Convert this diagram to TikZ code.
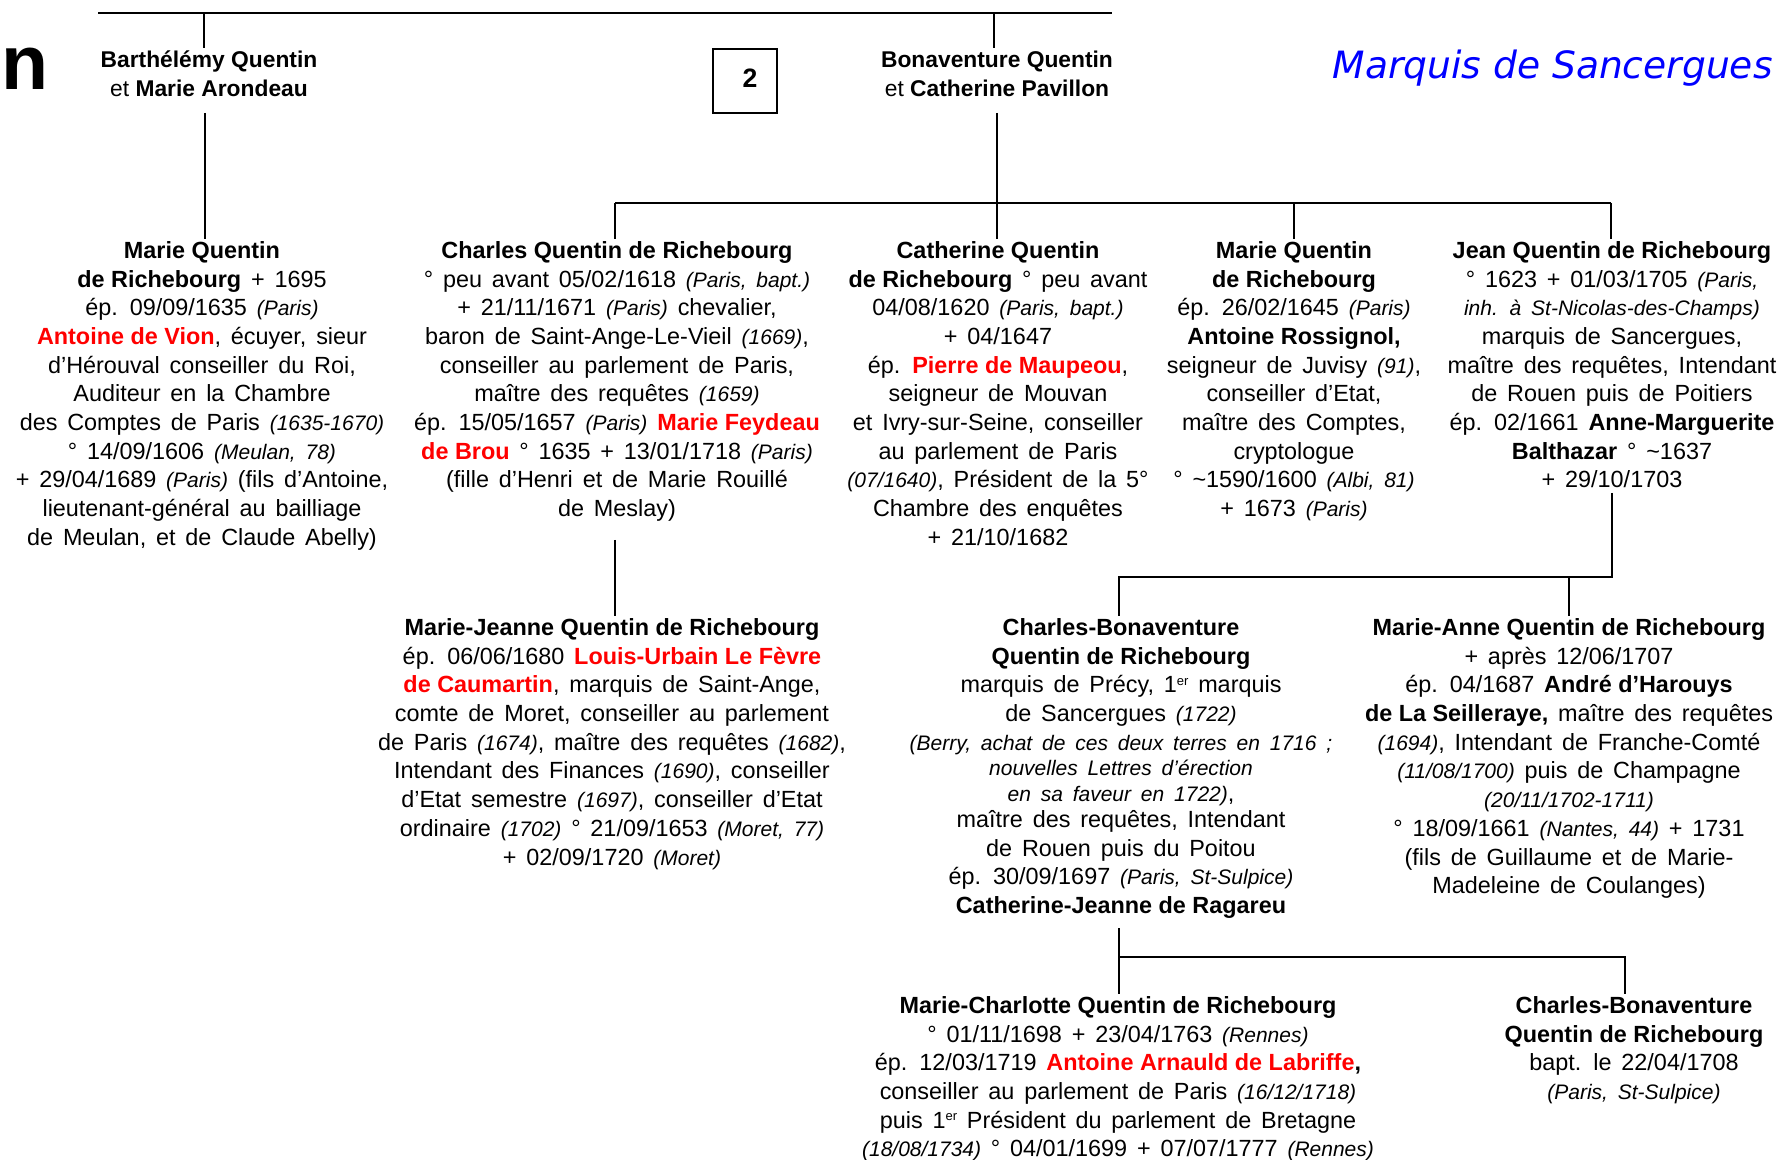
\documentclass[tikz,border=0pt]{standalone}
\usepackage{fontspec}
\setmainfont{Liberation Sans}
\newfontfamily\dejavu{DejaVu Sans}
\newcommand{\pl}[1]{{\fontsize{10.5}{14.35}\selectfont\itshape #1}}
\newcommand{\nm}[1]{{\spaceskip=0pt\bfseries #1}}
\newcommand{\rd}[1]{\textcolor{red}{\nm{#1}}}
\newcommand{\sups}[1]{\raisebox{0.6ex}{\fontsize{6.5}{7}\selectfont #1}}
\newcommand{\fl}{\rule{0pt}{9.5pt}}
\newcommand{\wsp}{\spaceskip=0.42em\relax}
\begin{document}
\begin{tikzpicture}[x=0.5pt,y=-0.5pt,
  person/.style={align=center, inner sep=0pt, anchor=north, font=\fontsize{11.7}{14.35}\selectfont\wsp},
  parent/.style={align=center, inner sep=0pt, anchor=north, font=\fontsize{11.4}{14.5}\selectfont},
  link/.style={line width=1pt, line join=miter}]
\fill[white] (0,0) rectangle (1785,1160);
\useasboundingbox (0,0) rectangle (1785,1160);

% headers
\node[anchor=base west, inner sep=0pt, font=\bfseries\fontsize{38.5}{40}\selectfont] (nn) at (1,90) {n};
\node[anchor=base east, inner sep=0pt, text=blue, font=\dejavu\itshape\fontsize{18.8}{22}\selectfont] (title) at (1773,79) {Marquis de Sancergues};
\node[draw, line width=0.75pt, minimum size=32pt, inner sep=0pt] (box) at (745,81) {};
\node[inner sep=0pt, font=\bfseries\fontsize{13.3}{16}\selectfont] (two) at (750,78) {2};

% parents
\node[parent] (bart) at (209,48) {\fl\textbf{Barthélémy Quentin}\\ et \textbf{Marie Arondeau}};
\node[parent] (bona) at (997,48) {\fl\textbf{Bonaventure Quentin}\\ et \textbf{Catherine Pavillon}};

% row 1
\node[person] (mq1) at (202,239) {\fl\nm{Marie Quentin}\\
\nm{de Richebourg} + 1695\\
ép. 09/09/1635 \pl{(Paris)}\\
\rd{Antoine de Vion}, écuyer, sieur\\
d’Hérouval conseiller du Roi,\\
Auditeur en la Chambre\\
des Comptes de Paris \pl{(1635-1670)}\\
° 14/09/1606 \pl{(Meulan, 78)}\\
+ 29/04/1689 \pl{(Paris)} (fils d’Antoine,\\
lieutenant-général au bailliage\\
de Meulan, et de Claude Abelly)};

\node[person] (ch1) at (617,239) {\fl\nm{Charles Quentin de Richebourg}\\
° peu avant 05/02/1618 \pl{(Paris, bapt.)}\\
+ 21/11/1671 \pl{(Paris)} chevalier,\\
baron de Saint-Ange-Le-Vieil \pl{(1669)},\\
conseiller au parlement de Paris,\\
maître des requêtes \pl{(1659)}\\
ép. 15/05/1657 \pl{(Paris)} \rd{Marie Feydeau}\\
\rd{de Brou} ° 1635 + 13/01/1718 \pl{(Paris)}\\
(fille d’Henri et de Marie Rouillé\\
de Meslay)};

\node[person] (ca1) at (998,239) {\fl\nm{Catherine Quentin}\\
\nm{de Richebourg} ° peu avant\\
04/08/1620 \pl{(Paris, bapt.)}\\
+ 04/1647\\
ép. \rd{Pierre de Maupeou},\\
seigneur de Mouvan\\
et Ivry-sur-Seine, conseiller\\
au parlement de Paris\\
\pl{(07/1640)}, Président de la 5°\\
Chambre des enquêtes\\
+ 21/10/1682};

\node[person] (mq4) at (1294,239) {\fl\nm{Marie Quentin}\\
\nm{de Richebourg}\\
ép. 26/02/1645 \pl{(Paris)}\\
\nm{Antoine Rossignol,}\\
seigneur de Juvisy \pl{(91)},\\
conseiller d’Etat,\\
maître des Comptes,\\
cryptologue\\
° \textasciitilde1590/1600 \pl{(Albi, 81)}\\
+ 1673 \pl{(Paris)}};

\node[person] (je1) at (1612,239) {\fl\nm{Jean Quentin de Richebourg}\\
° 1623 + 01/03/1705 \pl{(Paris,}\\
\pl{inh. à St-Nicolas-des-Champs)}\\
marquis de Sancergues,\\
maître des requêtes, Intendant\\
de Rouen puis de Poitiers\\
ép. 02/1661 \nm{Anne-Marguerite}\\
\nm{Balthazar} ° \textasciitilde1637\\
+ 29/10/1703};

% row 2
\node[person] (mj) at (612,616) {\fl\nm{Marie-Jeanne Quentin de Richebourg}\\
ép. 06/06/1680 \rd{Louis-Urbain Le Fèvre}\\
\rd{de Caumartin}, marquis de Saint-Ange,\\
comte de Moret, conseiller au parlement\\
de Paris \pl{(1674)}, maître des requêtes \pl{(1682)},\\
Intendant des Finances \pl{(1690)}, conseiller\\
d’Etat semestre \pl{(1697)}, conseiller d’Etat\\
ordinaire \pl{(1702)} ° 21/09/1653 \pl{(Moret, 77)}\\
+ 02/09/1720 \pl{(Moret)}};

\node[person] (cb) at (1121,616) {\fl\nm{Charles-Bonaventure}\\
\nm{Quentin de Richebourg}\\
marquis de Précy, 1\sups{er} marquis\\
de Sancergues \pl{(1722)}\\
\pl{(Berry, achat de ces deux terres en 1716 ;}\\[-1.5pt]
\pl{nouvelles Lettres d’érection}\\[-1.5pt]
\pl{en sa faveur en 1722)},\\[-1.5pt]
maître des requêtes, Intendant\\
de Rouen puis du Poitou\\
ép. 30/09/1697 \pl{(Paris, St-Sulpice)}\\
\nm{Catherine-Jeanne de Ragareu}};

\node[person] (ma) at (1569,616) {\fl\nm{Marie-Anne Quentin de Richebourg}\\
+ après 12/06/1707\\
ép. 04/1687 \nm{André d’Harouys}\\
\nm{de La Seilleraye,} maître des requêtes\\
\pl{(1694)}, Intendant de Franche-Comté\\
\pl{(11/08/1700)} puis de Champagne\\
\pl{(20/11/1702-1711)}\\
° 18/09/1661 \pl{(Nantes, 44)} + 1731\\
(fils de Guillaume et de Marie-\\
Madeleine de Coulanges)};

% row 3
\node[person] (mc) at (1118,994) {\fl\nm{Marie-Charlotte Quentin de Richebourg}\\
° 01/11/1698 + 23/04/1763 \pl{(Rennes)}\\
ép. 12/03/1719 \rd{Antoine Arnauld de Labriffe}\nm{,}\\
conseiller au parlement de Paris \pl{(16/12/1718)}\\
puis 1\sups{er} Président du parlement de Bretagne\\
\pl{(18/08/1734)} ° 04/01/1699 + 07/07/1777 \pl{(Rennes)}};

\node[person] (cb2) at (1634,994) {\fl\nm{Charles-Bonaventure}\\
\nm{Quentin de Richebourg}\\
bapt. le 22/04/1708\\
\pl{(Paris, St-Sulpice)}};

% connectors
\coordinate (T1) at (98,13);
\coordinate (T2) at (1112,13);
\coordinate (Tb) at (204,13);
\coordinate (Tc) at (994,13);
\draw[link] (T1) -- (T2);
\draw[link] (Tb) -- (Tb |- bart.north);
\draw[link] (Tc) -- (Tc |- bona.north);

\coordinate (B1) at (205,113);
\draw[link] (B1) -- (B1 |- mq1.north);

\coordinate (C1) at (997,113);
\draw[link] (C1) -- (C1 |- ca1.north);

\coordinate (R1a) at (615,203);
\coordinate (R1b) at (1611,203);
\coordinate (R1c) at (1294,203);
\draw[link] (R1a) -- (R1b);
\draw[link] (R1a) -- (R1a |- ch1.north);
\draw[link] (R1c) -- (R1c |- mq4.north);
\draw[link] (R1b) -- (R1b |- je1.north);

\coordinate (D1) at (615,540);
\draw[link] (D1) -- (D1 |- mj.north);

\coordinate (J1) at (1612,493);
\coordinate (J2) at (1612,577);
\coordinate (J3) at (1119,577);
\coordinate (J4) at (1569,577);
\draw[link] (J1) -- (J2) -- (J3) -- (J3 |- cb.north);
\draw[link] (J4) -- (J4 |- ma.north);

\coordinate (K1) at (1119,928);
\coordinate (K2) at (1119,957);
\coordinate (K3) at (1625,957);
\draw[link] (K1) -- (K1 |- mc.north);
\draw[link] (K2) -- (K3) -- (K3 |- cb2.north);
\end{tikzpicture}
\end{document}
